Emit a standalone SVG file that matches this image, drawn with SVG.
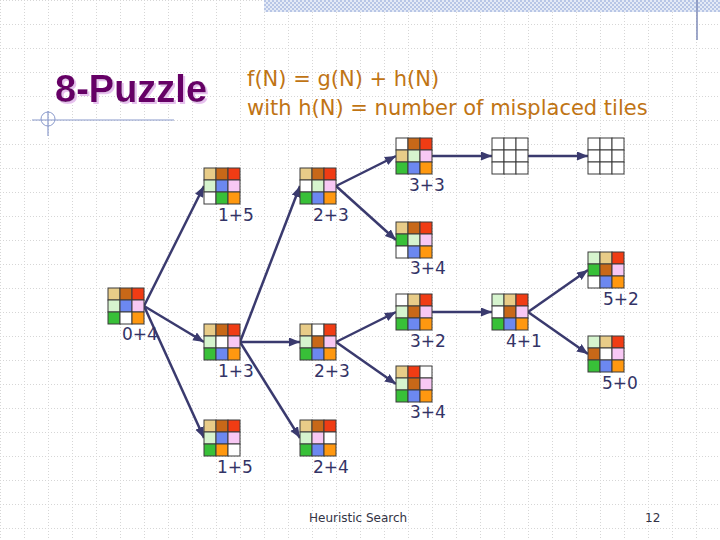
<svg xmlns="http://www.w3.org/2000/svg" width="720" height="540" viewBox="0 0 720 540">
<defs>
<pattern id="grid" width="24" height="24" patternUnits="userSpaceOnUse">
<path d="M0,0.5 H24 M0.5,0 V24" fill="none" stroke="#D6D6D6" stroke-width="1" stroke-dasharray="1,2"/>
</pattern>
<pattern id="band" width="4" height="4" patternUnits="userSpaceOnUse">
<rect width="4" height="4" fill="#E4EAF6"/>
<rect width="2" height="2" fill="#B8C6E6"/>
<rect x="2" y="2" width="2" height="2" fill="#B8C6E6"/>
</pattern>
<filter id="shadow" x="-5%" y="-10%" width="115%" height="130%">
<feDropShadow dx="2" dy="2" stdDeviation="0.6" flood-color="#E6C0EE" flood-opacity="1"/>
</filter>
<marker id="ah" markerUnits="userSpaceOnUse" markerWidth="12" markerHeight="10" refX="11" refY="4.5" orient="auto">
<path d="M0,0 L11,4.5 L0,9 z" fill="#3A3A6E"/>
</marker>
</defs>
<style>
.c{stroke:#3A3A3A;stroke-width:1}
.t{fill:#E8CC88}.b{fill:#C86818}.r{fill:#F03C14}.lg{fill:#D6F4CE}.bl{fill:#6C88F0}.pk{fill:#F8C8F4}.g{fill:#38C038}.o{fill:#FF9810}.w{fill:#FFFFFF}
.lbl{font-family:"DejaVu Sans",Verdana,sans-serif;font-size:17px;fill:#333366}
.edge{stroke:#3A3A6E;stroke-width:2.5;fill:none;marker-end:url(#ah)}
</style>
<rect width="720" height="540" fill="#FFFFFF"/>
<rect width="720" height="540" fill="url(#grid)"/>
<rect x="264" y="0" width="456" height="12" fill="url(#band)"/>
<line x1="697" y1="0" x2="697" y2="40" stroke="#7F8BB8" stroke-width="1.5"/>
<line x1="32" y1="120" x2="174" y2="120" stroke="#8A9ACC" stroke-width="1.2"/>
<line x1="48" y1="111" x2="48" y2="136" stroke="#8A9ACC" stroke-width="1.2"/>
<circle cx="48" cy="119" r="7" fill="none" stroke="#8A9ACC" stroke-width="1"/>
<text x="55" y="102" font-family="Liberation Sans,Arial,sans-serif" font-weight="bold" font-size="38" fill="#660066" filter="url(#shadow)">8-Puzzle</text>
<text x="247" y="86" font-family="DejaVu Sans,Verdana,sans-serif" font-size="21" fill="#C07414">f(N) = g(N) + h(N)</text>
<text x="247" y="115" font-family="DejaVu Sans,Verdana,sans-serif" font-size="21" fill="#C07414">with h(N) = number of misplaced tiles</text>
<g id="connectors">
<line class="edge" x1="144" y1="306" x2="204" y2="186"/>
<line class="edge" x1="144" y1="306" x2="204" y2="342"/>
<line class="edge" x1="144" y1="306" x2="204" y2="438"/>
<line class="edge" x1="240" y1="342" x2="300" y2="186"/>
<line class="edge" x1="240" y1="342" x2="300" y2="342"/>
<line class="edge" x1="240" y1="342" x2="300" y2="438"/>
<line class="edge" x1="336" y1="186" x2="396" y2="156"/>
<line class="edge" x1="336" y1="186" x2="396" y2="240"/>
<line class="edge" x1="336" y1="342" x2="396" y2="312"/>
<line class="edge" x1="336" y1="342" x2="396" y2="384"/>
<line class="edge" x1="432" y1="156" x2="492" y2="156"/>
<line class="edge" x1="528" y1="156" x2="588" y2="156"/>
<line class="edge" x1="432" y1="312" x2="492" y2="312"/>
<line class="edge" x1="528" y1="312" x2="588" y2="270"/>
<line class="edge" x1="528" y1="312" x2="588" y2="354"/>
</g>
<g id="n-root" transform="translate(108,288)">
<rect class="c t" x="0" y="0" width="12" height="12"/><rect class="c b" x="12" y="0" width="12" height="12"/><rect class="c r" x="24" y="0" width="12" height="12"/>
<rect class="c lg" x="0" y="12" width="12" height="12"/><rect class="c bl" x="12" y="12" width="12" height="12"/><rect class="c pk" x="24" y="12" width="12" height="12"/>
<rect class="c g" x="0" y="24" width="12" height="12"/><rect class="c w" x="12" y="24" width="12" height="12"/><rect class="c o" x="24" y="24" width="12" height="12"/>
<text class="lbl" x="14" y="52">0+4</text>
</g>
<g id="n-15a" transform="translate(204,168)">
<rect class="c t" x="0" y="0" width="12" height="12"/><rect class="c b" x="12" y="0" width="12" height="12"/><rect class="c r" x="24" y="0" width="12" height="12"/>
<rect class="c lg" x="0" y="12" width="12" height="12"/><rect class="c bl" x="12" y="12" width="12" height="12"/><rect class="c pk" x="24" y="12" width="12" height="12"/>
<rect class="c w" x="0" y="24" width="12" height="12"/><rect class="c g" x="12" y="24" width="12" height="12"/><rect class="c o" x="24" y="24" width="12" height="12"/>
<text class="lbl" x="14" y="53">1+5</text>
</g>
<g id="n-13" transform="translate(204,324)">
<rect class="c t" x="0" y="0" width="12" height="12"/><rect class="c b" x="12" y="0" width="12" height="12"/><rect class="c r" x="24" y="0" width="12" height="12"/>
<rect class="c lg" x="0" y="12" width="12" height="12"/><rect class="c w" x="12" y="12" width="12" height="12"/><rect class="c pk" x="24" y="12" width="12" height="12"/>
<rect class="c g" x="0" y="24" width="12" height="12"/><rect class="c bl" x="12" y="24" width="12" height="12"/><rect class="c o" x="24" y="24" width="12" height="12"/>
<text class="lbl" x="14" y="53">1+3</text>
</g>
<g id="n-15b" transform="translate(204,420)">
<rect class="c t" x="0" y="0" width="12" height="12"/><rect class="c b" x="12" y="0" width="12" height="12"/><rect class="c r" x="24" y="0" width="12" height="12"/>
<rect class="c lg" x="0" y="12" width="12" height="12"/><rect class="c bl" x="12" y="12" width="12" height="12"/><rect class="c pk" x="24" y="12" width="12" height="12"/>
<rect class="c g" x="0" y="24" width="12" height="12"/><rect class="c o" x="12" y="24" width="12" height="12"/><rect class="c w" x="24" y="24" width="12" height="12"/>
<text class="lbl" x="13" y="53">1+5</text>
</g>
<g id="n-23a" transform="translate(300,168)">
<rect class="c t" x="0" y="0" width="12" height="12"/><rect class="c b" x="12" y="0" width="12" height="12"/><rect class="c r" x="24" y="0" width="12" height="12"/>
<rect class="c w" x="0" y="12" width="12" height="12"/><rect class="c lg" x="12" y="12" width="12" height="12"/><rect class="c pk" x="24" y="12" width="12" height="12"/>
<rect class="c g" x="0" y="24" width="12" height="12"/><rect class="c bl" x="12" y="24" width="12" height="12"/><rect class="c o" x="24" y="24" width="12" height="12"/>
<text class="lbl" x="13" y="53">2+3</text>
</g>
<g id="n-23b" transform="translate(300,324)">
<rect class="c t" x="0" y="0" width="12" height="12"/><rect class="c w" x="12" y="0" width="12" height="12"/><rect class="c r" x="24" y="0" width="12" height="12"/>
<rect class="c lg" x="0" y="12" width="12" height="12"/><rect class="c b" x="12" y="12" width="12" height="12"/><rect class="c pk" x="24" y="12" width="12" height="12"/>
<rect class="c g" x="0" y="24" width="12" height="12"/><rect class="c bl" x="12" y="24" width="12" height="12"/><rect class="c o" x="24" y="24" width="12" height="12"/>
<text class="lbl" x="14" y="53">2+3</text>
</g>
<g id="n-24" transform="translate(300,420)">
<rect class="c t" x="0" y="0" width="12" height="12"/><rect class="c b" x="12" y="0" width="12" height="12"/><rect class="c r" x="24" y="0" width="12" height="12"/>
<rect class="c lg" x="0" y="12" width="12" height="12"/><rect class="c pk" x="12" y="12" width="12" height="12"/><rect class="c w" x="24" y="12" width="12" height="12"/>
<rect class="c g" x="0" y="24" width="12" height="12"/><rect class="c bl" x="12" y="24" width="12" height="12"/><rect class="c o" x="24" y="24" width="12" height="12"/>
<text class="lbl" x="13" y="53">2+4</text>
</g>
<g id="n-33" transform="translate(396,138)">
<rect class="c w" x="0" y="0" width="12" height="12"/><rect class="c b" x="12" y="0" width="12" height="12"/><rect class="c r" x="24" y="0" width="12" height="12"/>
<rect class="c t" x="0" y="12" width="12" height="12"/><rect class="c lg" x="12" y="12" width="12" height="12"/><rect class="c pk" x="24" y="12" width="12" height="12"/>
<rect class="c g" x="0" y="24" width="12" height="12"/><rect class="c bl" x="12" y="24" width="12" height="12"/><rect class="c o" x="24" y="24" width="12" height="12"/>
<text class="lbl" x="13" y="53">3+3</text>
</g>
<g id="n-34a" transform="translate(396,222)">
<rect class="c t" x="0" y="0" width="12" height="12"/><rect class="c b" x="12" y="0" width="12" height="12"/><rect class="c r" x="24" y="0" width="12" height="12"/>
<rect class="c g" x="0" y="12" width="12" height="12"/><rect class="c lg" x="12" y="12" width="12" height="12"/><rect class="c pk" x="24" y="12" width="12" height="12"/>
<rect class="c w" x="0" y="24" width="12" height="12"/><rect class="c bl" x="12" y="24" width="12" height="12"/><rect class="c o" x="24" y="24" width="12" height="12"/>
<text class="lbl" x="14" y="52">3+4</text>
</g>
<g id="n-32" transform="translate(396,294)">
<rect class="c w" x="0" y="0" width="12" height="12"/><rect class="c t" x="12" y="0" width="12" height="12"/><rect class="c r" x="24" y="0" width="12" height="12"/>
<rect class="c lg" x="0" y="12" width="12" height="12"/><rect class="c b" x="12" y="12" width="12" height="12"/><rect class="c pk" x="24" y="12" width="12" height="12"/>
<rect class="c g" x="0" y="24" width="12" height="12"/><rect class="c bl" x="12" y="24" width="12" height="12"/><rect class="c o" x="24" y="24" width="12" height="12"/>
<text class="lbl" x="14" y="53">3+2</text>
</g>
<g id="n-34b" transform="translate(396,366)">
<rect class="c t" x="0" y="0" width="12" height="12"/><rect class="c r" x="12" y="0" width="12" height="12"/><rect class="c w" x="24" y="0" width="12" height="12"/>
<rect class="c lg" x="0" y="12" width="12" height="12"/><rect class="c b" x="12" y="12" width="12" height="12"/><rect class="c pk" x="24" y="12" width="12" height="12"/>
<rect class="c g" x="0" y="24" width="12" height="12"/><rect class="c bl" x="12" y="24" width="12" height="12"/><rect class="c o" x="24" y="24" width="12" height="12"/>
<text class="lbl" x="14" y="52">3+4</text>
</g>
<g id="n-41" transform="translate(492,294)">
<rect class="c lg" x="0" y="0" width="12" height="12"/><rect class="c t" x="12" y="0" width="12" height="12"/><rect class="c r" x="24" y="0" width="12" height="12"/>
<rect class="c w" x="0" y="12" width="12" height="12"/><rect class="c b" x="12" y="12" width="12" height="12"/><rect class="c pk" x="24" y="12" width="12" height="12"/>
<rect class="c g" x="0" y="24" width="12" height="12"/><rect class="c bl" x="12" y="24" width="12" height="12"/><rect class="c o" x="24" y="24" width="12" height="12"/>
<text class="lbl" x="14" y="53">4+1</text>
</g>
<g id="n-52" transform="translate(588,252)">
<rect class="c lg" x="0" y="0" width="12" height="12"/><rect class="c t" x="12" y="0" width="12" height="12"/><rect class="c r" x="24" y="0" width="12" height="12"/>
<rect class="c g" x="0" y="12" width="12" height="12"/><rect class="c b" x="12" y="12" width="12" height="12"/><rect class="c pk" x="24" y="12" width="12" height="12"/>
<rect class="c w" x="0" y="24" width="12" height="12"/><rect class="c bl" x="12" y="24" width="12" height="12"/><rect class="c o" x="24" y="24" width="12" height="12"/>
<text class="lbl" x="15" y="53">5+2</text>
</g>
<g id="n-50" transform="translate(588,336)">
<rect class="c lg" x="0" y="0" width="12" height="12"/><rect class="c t" x="12" y="0" width="12" height="12"/><rect class="c r" x="24" y="0" width="12" height="12"/>
<rect class="c b" x="0" y="12" width="12" height="12"/><rect class="c w" x="12" y="12" width="12" height="12"/><rect class="c pk" x="24" y="12" width="12" height="12"/>
<rect class="c g" x="0" y="24" width="12" height="12"/><rect class="c bl" x="12" y="24" width="12" height="12"/><rect class="c o" x="24" y="24" width="12" height="12"/>
<text class="lbl" x="14" y="53">5+0</text>
</g>
<g id="n-e1" transform="translate(492,138)">
<rect class="c w" x="0" y="0" width="12" height="12"/><rect class="c w" x="12" y="0" width="12" height="12"/><rect class="c w" x="24" y="0" width="12" height="12"/>
<rect class="c w" x="0" y="12" width="12" height="12"/><rect class="c w" x="12" y="12" width="12" height="12"/><rect class="c w" x="24" y="12" width="12" height="12"/>
<rect class="c w" x="0" y="24" width="12" height="12"/><rect class="c w" x="12" y="24" width="12" height="12"/><rect class="c w" x="24" y="24" width="12" height="12"/>
</g>
<g id="n-e2" transform="translate(588,138)">
<rect class="c w" x="0" y="0" width="12" height="12"/><rect class="c w" x="12" y="0" width="12" height="12"/><rect class="c w" x="24" y="0" width="12" height="12"/>
<rect class="c w" x="0" y="12" width="12" height="12"/><rect class="c w" x="12" y="12" width="12" height="12"/><rect class="c w" x="24" y="12" width="12" height="12"/>
<rect class="c w" x="0" y="24" width="12" height="12"/><rect class="c w" x="12" y="24" width="12" height="12"/><rect class="c w" x="24" y="24" width="12" height="12"/>
</g>
<text x="309" y="522" font-family="DejaVu Sans,Verdana,sans-serif" font-size="12" fill="#333344">Heuristic Search</text>
<text x="645" y="522" font-family="DejaVu Sans,Verdana,sans-serif" font-size="12" fill="#333344">12</text>
</svg>
